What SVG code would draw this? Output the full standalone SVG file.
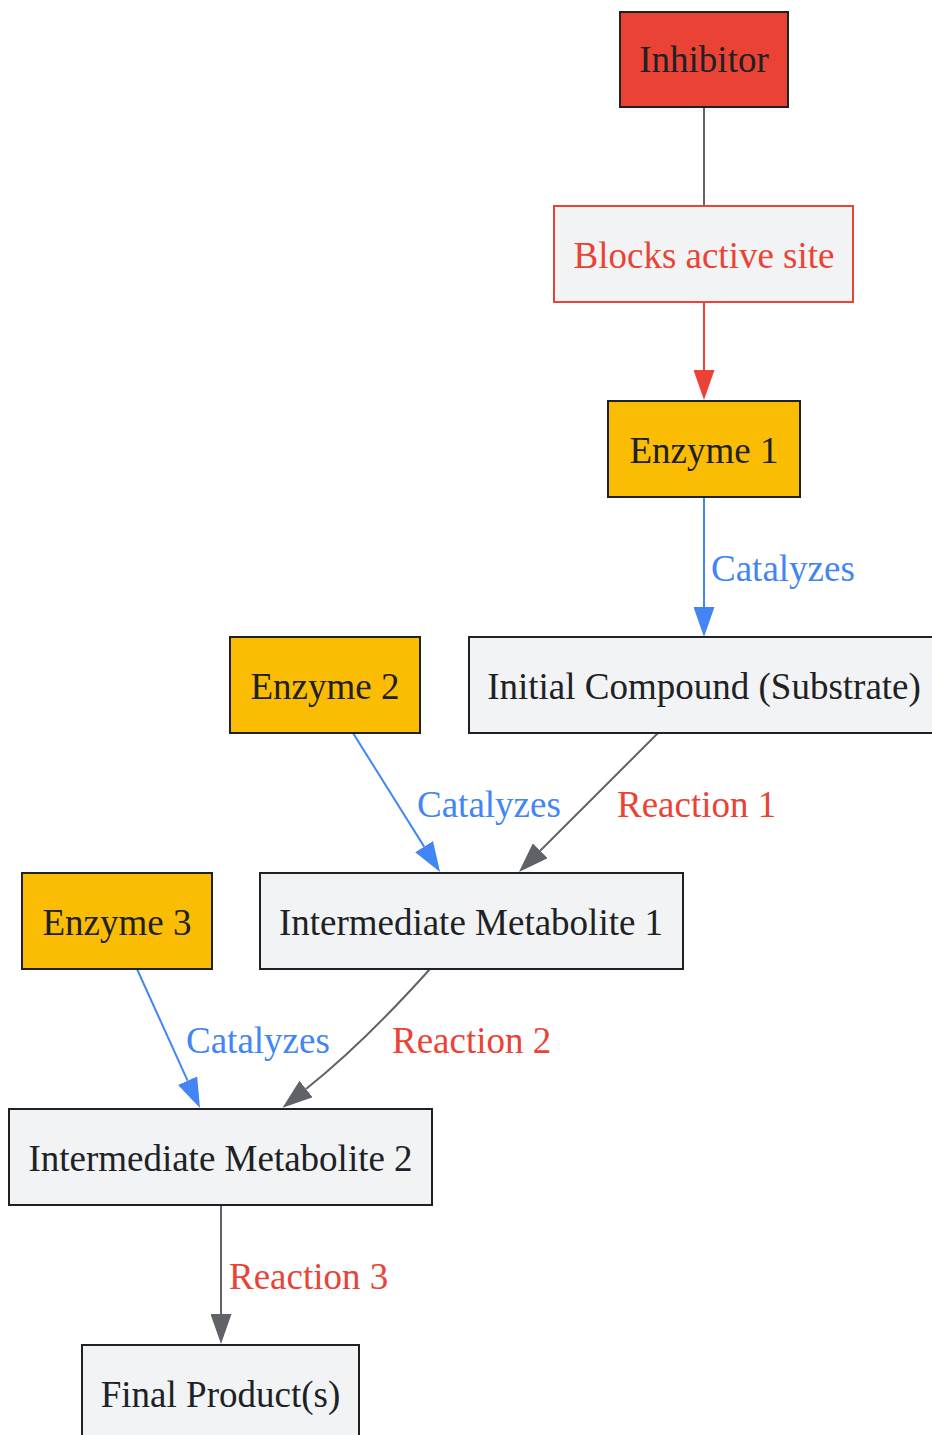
<svg xmlns="http://www.w3.org/2000/svg" width="932" height="1435" viewBox="0 0 932 1435">
<style>
.n rect{stroke:#202124;stroke-width:2}
.n text{font-family:"Liberation Serif","Times New Roman",serif;font-size:37px;fill:#202124;text-anchor:middle}
.enz{fill:#FBBC04}
.cmp{fill:#F1F3F4}
.lbl{font-family:"Liberation Serif","Times New Roman",serif;font-size:37px}
.blue{stroke:#4285F4;stroke-width:2;fill:none}
.gray{stroke:#5F6368;stroke-width:2;fill:none}
.red{stroke:#EA4335;stroke-width:2;fill:none}
</style>
<defs>
<marker id="ab" markerUnits="userSpaceOnUse" viewBox="0 0 30 21" refX="0" refY="10.5" markerWidth="30" markerHeight="21" orient="auto"><path d="M0,0 L30,10.5 L0,21 z" fill="#4285F4"/></marker>
<marker id="ag" markerUnits="userSpaceOnUse" viewBox="0 0 30 21" refX="0" refY="10.5" markerWidth="30" markerHeight="21" orient="auto"><path d="M0,0 L30,10.5 L0,21 z" fill="#5F6368"/></marker>
<marker id="ar" markerUnits="userSpaceOnUse" viewBox="0 0 30 21" refX="0" refY="10.5" markerWidth="30" markerHeight="21" orient="auto"><path d="M0,0 L30,10.5 L0,21 z" fill="#EA4335"/></marker>
</defs>
<rect width="932" height="1435" fill="#FFFFFF"/>
<g id="connectors">
<path class="gray" d="M704,107 L704,206"/>
<path class="red" d="M704,302 L704,370" marker-end="url(#ar)"/>
<path class="blue" d="M704,497 L704,607" marker-end="url(#ab)"/>
<path class="blue" d="M353,733 L424.1,846.6" marker-end="url(#ab)"/>
<path class="gray" d="M658,733 L540.2,850.8" marker-end="url(#ag)"/>
<path class="blue" d="M137,969 L187.6,1080.7" marker-end="url(#ab)"/>
<path class="gray" d="M430,969 C395,1008 355,1050 306,1089" marker-end="url(#ag)"/>
<path class="gray" d="M221,1205 L221,1314" marker-end="url(#ag)"/>
<text class="lbl" x="711" y="581" fill="#4285F4">Catalyzes</text>
<text class="lbl" x="417" y="817" fill="#4285F4">Catalyzes</text>
<text class="lbl" x="617" y="817" fill="#EA4335">Reaction 1</text>
<text class="lbl" x="186" y="1053" fill="#4285F4">Catalyzes</text>
<text class="lbl" x="392" y="1053" fill="#EA4335">Reaction 2</text>
<text class="lbl" x="229" y="1289" fill="#EA4335">Reaction 3</text>
</g>
<g id="inhibitor" class="n"><rect x="620" y="12" width="168" height="95" fill="#EA4335"/><text x="704" y="72">Inhibitor</text></g>
<g id="blocks" class="n"><rect x="554" y="206" width="299" height="96" fill="#F1F3F4" style="stroke:#EA4335"/><text x="704" y="268" style="fill:#EA4335">Blocks active site</text></g>
<g id="enzyme1" class="n"><rect class="enz" x="608" y="401" width="192" height="96"/><text x="704" y="463">Enzyme 1</text></g>
<g id="initial" class="n"><rect class="cmp" x="469" y="637" width="470" height="96"/><text x="704" y="699">Initial Compound (Substrate)</text></g>
<g id="enzyme2" class="n"><rect class="enz" x="230" y="637" width="190" height="96"/><text x="325" y="699">Enzyme 2</text></g>
<g id="enzyme3" class="n"><rect class="enz" x="22" y="873" width="190" height="96"/><text x="117" y="935">Enzyme 3</text></g>
<g id="im1" class="n"><rect class="cmp" x="260" y="873" width="423" height="96"/><text x="471" y="935">Intermediate Metabolite 1</text></g>
<g id="im2" class="n"><rect class="cmp" x="9" y="1109" width="423" height="96"/><text x="220.5" y="1171">Intermediate Metabolite 2</text></g>
<g id="final" class="n"><rect class="cmp" x="82" y="1345" width="277" height="96"/><text x="220.5" y="1407">Final Product(s)</text></g>
</svg>
